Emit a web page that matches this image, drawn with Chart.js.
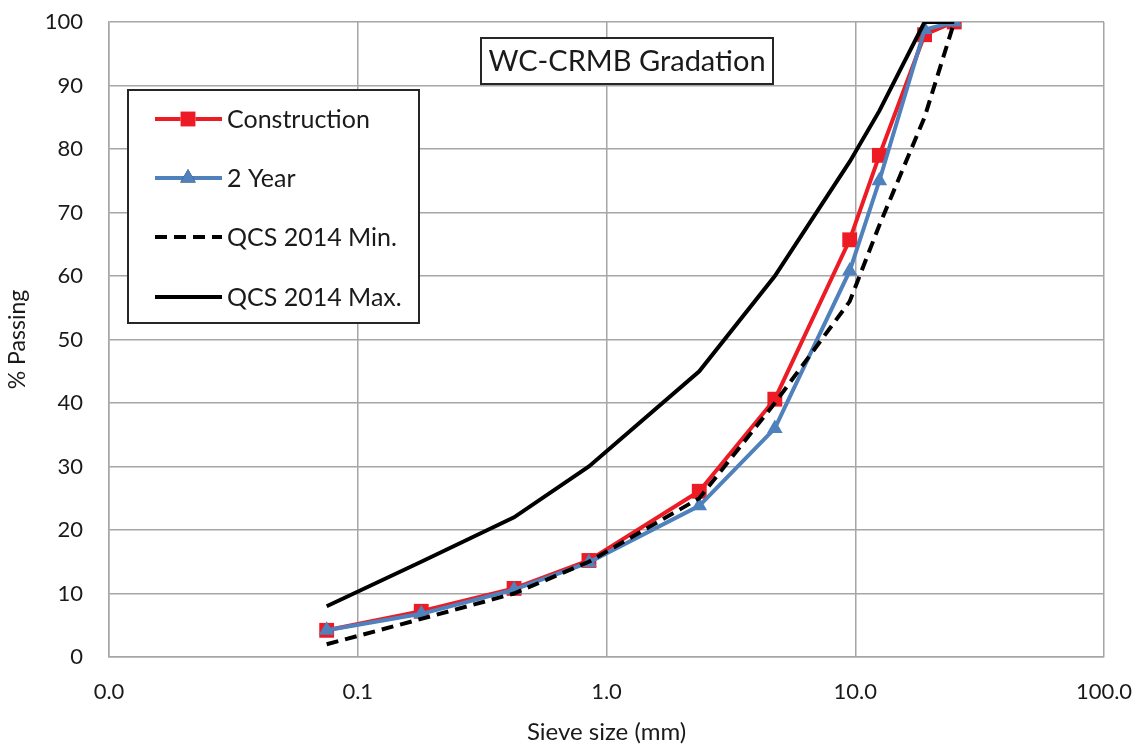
<!DOCTYPE html>
<html>
<head>
<meta charset="utf-8">
<script src="https://cdn.jsdelivr.net/npm/chart.js@4/dist/chart.umd.min.js"></script>
<style>
  html, body { margin: 0; padding: 0; background: #fff; }
  #wrap { position: relative; width: 1145px; height: 752px; }
</style>
</head>
<body>
<div id="wrap"><canvas id="c" width="1145" height="752"></canvas></div>
<script>
// Sieve sizes (mm)
const sieveSizes = [0.075, 0.18, 0.425, 0.85, 2.36, 4.75, 9.5, 12.5, 19, 25];
// % passing
const construction = [4.2, 7.2, 10.8, 15.2, 26.1, 40.6, 65.7, 79, 98, 100];
const twoYear      = [4.2, 6.8, 10.6, 14.9, 23.8, 36, 60.8, 75, 98.8, 100];
const qcsMin       = [2, 6, 10, 15, 25, 40, 56, 68, 85, 100];
const qcsMax       = [8, 15, 22, 30, 45, 60, 78, 86, 100, 100];
const xTicks = [0.01, 0.1, 1, 10, 100];
const seriesNames = ['Construction', '2 Year', 'QCS 2014 Min.', 'QCS 2014 Max.'];
const chartTitle = 'WC-CRMB Gradation';

const FONT = 'Lato, "Open Sans", sans-serif';
const pts = (arr) => sieveSizes.map((s, i) => ({x: s, y: arr[i]}));

const legendPlugin = {
  id: 'boxLegend',
  afterDraw(chart) {
    const ctx = chart.ctx;
    ctx.save();
    // title box
    ctx.fillStyle = '#fff';
    ctx.fillRect(481, 38, 292, 46);
    ctx.strokeStyle = '#262626';
    ctx.lineWidth = 2;
    ctx.strokeRect(481, 38, 292, 46);
    ctx.fillStyle = '#1a1a1a';
    ctx.font = '29px ' + FONT;
    ctx.textAlign = 'center';
    ctx.textBaseline = 'middle';
    ctx.fillText(chartTitle, 627, 62);

    // legend box
    ctx.fillStyle = '#fff';
    ctx.fillRect(128, 90, 291, 233);
    ctx.strokeStyle = '#262626';
    ctx.lineWidth = 2;
    ctx.strokeRect(128, 90, 291, 233);
    const rowsY = [119, 178, 237, 297];
    chart.data.datasets.forEach((ds, i) => {
      const y = rowsY[i];
      ctx.save();
      ctx.strokeStyle = ds.borderColor;
      ctx.lineWidth = ds.borderWidth;
      ctx.setLineDash(ds.borderDash || []);
      ctx.lineCap = 'butt';
      ctx.beginPath();
      ctx.moveTo(155, y);
      ctx.lineTo(222, y);
      ctx.stroke();
      ctx.restore();
      if (ds.pointStyle && ds.pointRadius > 0) {
        Chart.helpers.drawPoint(ctx, {
          pointStyle: ds.pointStyle, radius: ds.pointRadius, rotation: 0, borderWidth: 0
        }, 188, y);
        ctx.fillStyle = ds.pointBackgroundColor;
        ctx.fill();
      }
      ctx.fillStyle = '#1a1a1a';
      ctx.font = '25px ' + FONT;
      ctx.textAlign = 'left';
      ctx.textBaseline = 'middle';
      ctx.fillText(seriesNames[i], 227, y + 1);
    });
    ctx.restore();
  }
};

new Chart(document.getElementById('c'), {
  type: 'line',
  data: {
    datasets: [
      { label: seriesNames[0], data: pts(construction), borderColor: '#ED1C24', backgroundColor: '#ED1C24',
        pointBackgroundColor: '#ED1C24', pointBorderWidth: 0, borderWidth: 4, pointStyle: 'rect', pointRadius: 10.5, order: 4 },
      { label: seriesNames[1], data: pts(twoYear), borderColor: '#4F81BD', backgroundColor: '#4F81BD',
        pointBackgroundColor: '#4F81BD', pointBorderWidth: 0, borderWidth: 4, pointStyle: 'triangle', pointRadius: 9, order: 3 },
      { label: seriesNames[2], data: pts(qcsMin), borderColor: '#000000', backgroundColor: '#000',
        borderWidth: 4, borderDash: [12, 7], pointRadius: 0, pointStyle: false, order: 2 },
      { label: seriesNames[3], data: pts(qcsMax), borderColor: '#000000', backgroundColor: '#000',
        borderWidth: 4, pointRadius: 0, pointStyle: false, order: 1 }
    ]
  },
  options: {
    responsive: false,
    animation: false,
    layout: { padding: { left: 0, top: 22, right: 41, bottom: 0 } },
    plugins: { legend: { display: false }, tooltip: { enabled: false } },
    elements: { line: { tension: 0 } },
    scales: {
      x: {
        type: 'logarithmic', min: 0.01, max: 100,
        afterBuildTicks(scale) { scale.ticks = xTicks.map(v => ({value: v, major: true})); },
        afterFit(scale) { scale.height = 95; scale.paddingLeft = 0; scale.paddingRight = 0; },
        ticks: { color: '#1a1a1a', font: { family: FONT, size: 22 }, padding: 22, maxRotation: 0, autoSkip: false,
          callback: (v) => Number(v).toFixed(1) },
        grid: { color: '#A6A6A6', lineWidth: 1.5, drawTicks: false },
        border: { color: '#A6A6A6', width: 1.5 },
        title: { display: true, text: 'Sieve size (mm)', color: '#1a1a1a', font: { family: FONT, size: 24 }, padding: { top: 0, bottom: 5 } }
      },
      y: {
        min: 0, max: 100,
        afterFit(scale) { scale.width = 109; scale.paddingTop = 0; scale.paddingBottom = 0; },
        ticks: { stepSize: 10, color: '#1a1a1a', font: { family: FONT, size: 22 }, padding: 26 },
        grid: { color: '#A6A6A6', lineWidth: 1.5, drawTicks: false },
        border: { color: '#A6A6A6', width: 1.5 },
        title: { display: true, text: '% Passing', color: '#1a1a1a', font: { family: FONT, size: 23 }, padding: { top: 4, bottom: 0 } }
      }
    }
  },
  plugins: [legendPlugin]
});
</script>
</body>
</html>
